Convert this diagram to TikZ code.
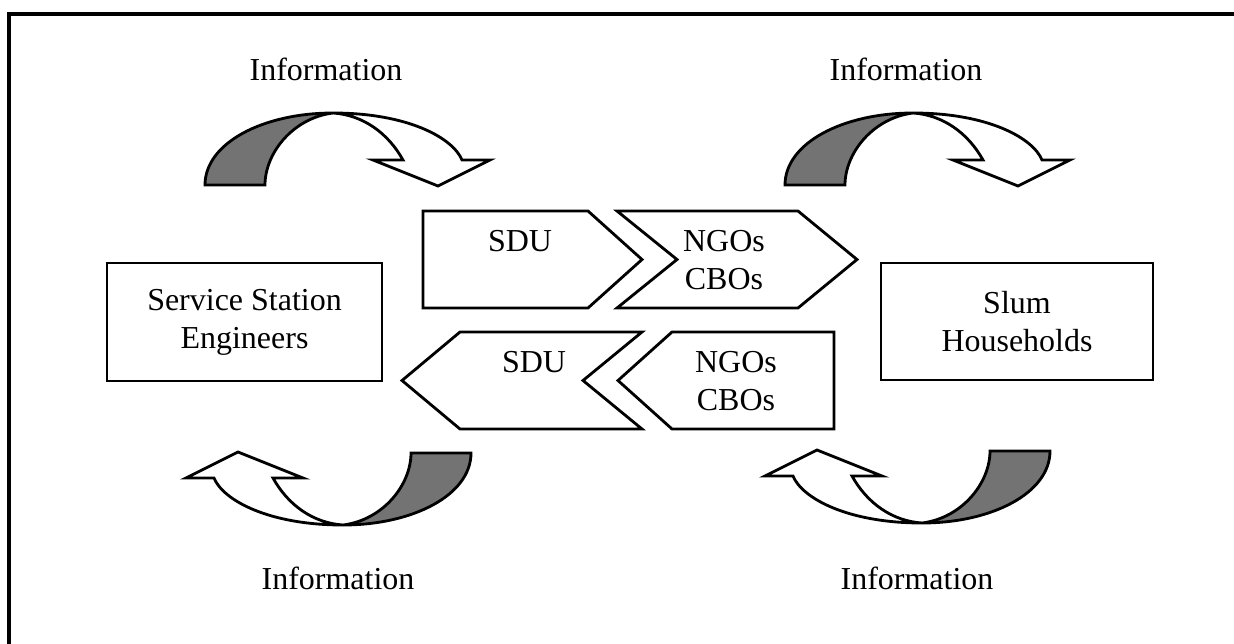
\documentclass[tikz,border=0pt]{standalone}
\usepackage{fontspec}
\setmainfont{Liberation Serif}
\begin{document}
\begin{tikzpicture}[
    x=0.02cm, y=-0.02cm,
    font=\fontsize{18.2}{21.6}\selectfont,
    block/.style={rectangle, draw, line width=1.6pt, align=center, inner sep=0pt},
    chevron/.style={draw, line width=1.6pt, line join=miter, fill=white},
    infotext/.style={inner sep=0pt},
    infoarrow/.pic={
        \draw[line width=1.6pt, line join=miter, fill=white] (0,0) .. controls (75,0) and (120,25) .. (129,47)
            -- (157,47) -- (105,73) -- (40,47) -- (70,47) .. controls (55,20) and (30,2) .. (0,0) -- cycle;
        \draw[line width=1.6pt, fill=black!55] (-128,72) .. controls (-128,30) and (-70,0) .. (0,0)
            .. controls (-40,5) and (-68,40) .. (-68,72) -- cycle;
    }
]
\useasboundingbox (0,0) rectangle (1234,643);
\clip (0,0) rectangle (1234,643);
\draw[line width=1.8pt] (9,650) |- (1240,14);

\node[block, minimum width=5.5cm, minimum height=2.36cm] (sse) at (244.5,322) {Service Station\\Engineers};
\node[block, minimum width=5.44cm, minimum height=2.34cm] (slum) at (1017,321.5) {Slum\\Households};

% forward chain
\draw[chevron] (423,211) -- (588,211) -- (642,259.5) -- (588,308) -- (423,308) -- cycle;
\draw[chevron] (617,211) -- (798,211) -- (857,259.5) -- (798,308) -- (617,308) -- (677,259.5) -- cycle;
\node[infotext] (sduout) at (520,241.5) {SDU};
\node[infotext, align=center] (ngoout) at (724,260) {NGOs\\CBOs};

% return chain
\draw[chevron] (402,380.5) -- (460,332) -- (642,332) -- (583,380.5) -- (642,429) -- (460,429) -- cycle;
\draw[chevron] (618,380.5) -- (672,332) -- (834,332) -- (834,429) -- (672,429) -- cycle;
\node[infotext] (sduback) at (534,362.5) {SDU};
\node[infotext, align=center] (ngoback) at (736,381) {NGOs\\CBOs};

% information loops
\pic at (333,113) {infoarrow};
\pic at (913,113) {infoarrow};
\pic[rotate=180] at (343,525) {infoarrow};
\pic[rotate=180] at (922,523) {infoarrow};
\node[infotext] (infoul) at (326,69) {Information};
\node[infotext] (infour) at (906,69) {Information};
\node[infotext] (infoll) at (338,578) {Information};
\node[infotext] (infolr) at (917,578) {Information};
\end{tikzpicture}
\end{document}
